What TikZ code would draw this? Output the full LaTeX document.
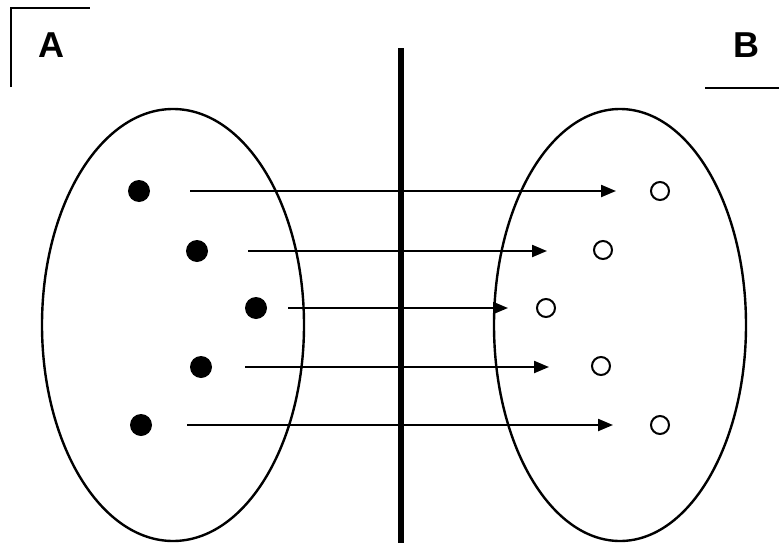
\documentclass[tikz,border=0pt]{standalone}
\usepackage{fontspec}
\setmainfont{Liberation Sans}
\usetikzlibrary{arrows.meta,shapes.geometric}
\begin{document}
\begin{tikzpicture}[x=1pt,y=-1pt,
  full/.style={circle,fill=black,minimum size=22pt,inner sep=0pt},
  hollow/.style={circle,draw=black,line width=2pt,minimum size=18pt,inner sep=0pt},
  setov/.style={ellipse,draw=black,line width=2.4pt,inner sep=0pt},
  arr/.style={line width=2.2pt,-{Triangle[length=15pt,width=12pt]}},
  lbl/.style={font=\fontsize{36}{36}\selectfont\bfseries,inner sep=0pt}]
\useasboundingbox (0,0) rectangle (779,546);
\node[setov,minimum width=262pt,minimum height=432pt] (SA) at (173,325) {};
\node[setov,minimum width=252pt,minimum height=432pt] (SB) at (620,325) {};
\coordinate (vt) at (401,48);
\coordinate (vb) at (401,543);
\draw[line width=6pt] (vt) -- (vb);
% bracket and labels
\coordinate (ab1) at (11,87);
\coordinate (ab2) at (11,8);
\coordinate (ab3) at (90,8);
\draw[line width=2.2pt] (ab1) -- (ab2) -- (ab3);
\node[lbl] (A) at (51,45) {A};
\node[lbl] (B) at (746,45) {B};
\coordinate (bl1) at (705,88);
\coordinate (bl2) at (779,88);
\draw[line width=2.2pt] (bl1) -- (bl2);
% points
\node[full] (d1) at (139,191) {};
\node[full] (d2) at (197,251) {};
\node[full] (d3) at (256,308) {};
\node[full] (d4) at (201,367) {};
\node[full] (d5) at (141,425) {};
\node[hollow] (o1) at (660,191) {};
\node[hollow] (o2) at (603,250) {};
\node[hollow] (o3) at (546,308) {};
\node[hollow] (o4) at (601,366) {};
\node[hollow] (o5) at (660,425) {};
% arrows
\draw[arr,shorten <=40pt,shorten >=34pt] (d1.east) -- (o1.west |- d1.east);
\draw[arr,shorten <=40pt,shorten >=46pt] (d2.east) -- (o2.west |- d2.east);
\draw[arr,shorten <=21pt,shorten >=28pt] (d3.east) -- (o3.west |- d3.east);
\draw[arr,shorten <=33pt,shorten >=42pt] (d4.east) -- (o4.west |- d4.east);
\draw[arr,shorten <=35pt,shorten >=37pt] (d5.east) -- (o5.west |- d5.east);
\end{tikzpicture}
\end{document}
